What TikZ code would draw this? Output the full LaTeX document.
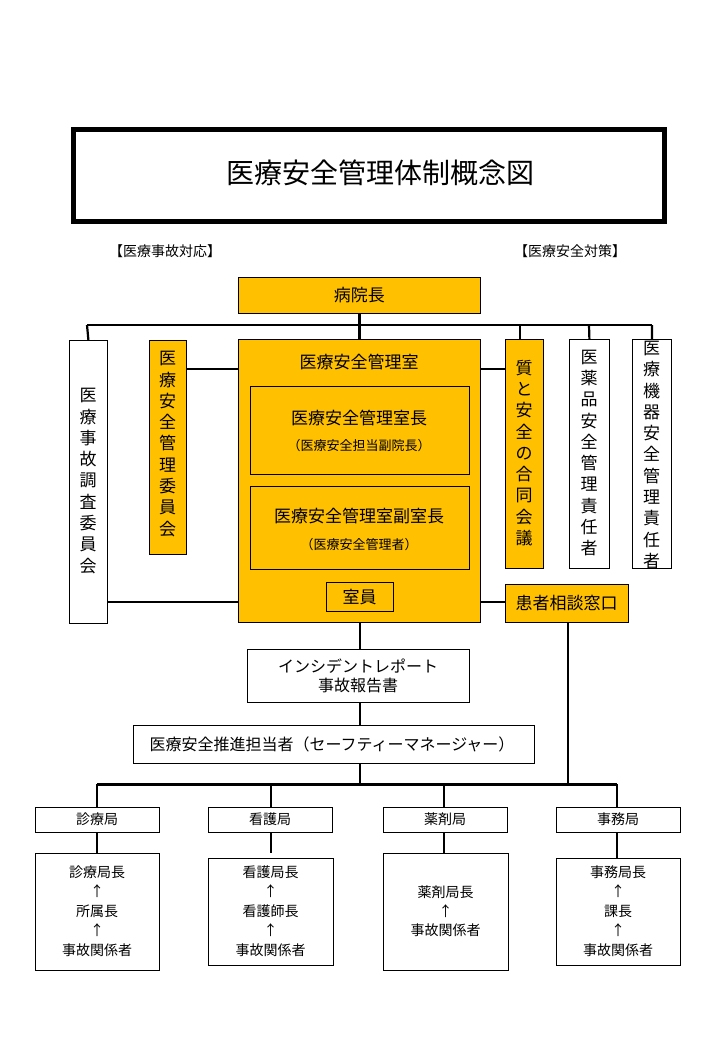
\documentclass[tikz,border=0pt]{standalone}
\usepackage{fontspec}
\setmainfont{Noto Sans CJK JP}
\begin{document}
\begin{tikzpicture}[x=1pt,y=-1pt,
  box/.style={draw,line width=0.8pt,fill=white},
  obox/.style={draw,line width=0.8pt,fill=orgc},
  con/.style={line width=2.2pt},
  vt/.style={align=center,font=\fontsize{17}{21.3}\selectfont},
  sm/.style={font=\fontsize{14}{18}\selectfont},
  md/.style={font=\fontsize{17}{20}\selectfont}]
\definecolor{orgc}{HTML}{FFC000}
\useasboundingbox (0,0) rectangle (720,1040);
% connectors first
\draw[con] (87,325) -- (652,325);
\coordinate (busL) at (97,784); \coordinate (busR) at (617,784);
\draw[con,line width=3pt] (busL) -- (busR);
% title
\node[draw,line width=5pt,minimum width=591,minimum height=92,anchor=north west] (title) at (71,127) {};
\node[font=\fontsize{28}{30}\selectfont] at (380,173) {医療安全管理体制概念図};
\node[sm] (l1) at (165,251) {【医療事故対応】};
\node[sm] (l2) at (570,251) {【医療安全対策】};
% nodes
\node[obox,minimum width=242,minimum height=36,anchor=north west,md] (inch) at (238,277) {病院長};
\node[box,minimum width=38,minimum height=283,anchor=north west] (jiko) at (69,340) {};
\node[vt] at (88,481) {医\\療\\事\\故\\調\\査\\委\\員\\会};
\node[obox,minimum width=37,minimum height=214,anchor=north west] (iin) at (149,340) {};
\node[vt] at (167.5,444) {医\\療\\安\\全\\管\\理\\委\\員\\会};
\node[obox,minimum width=242,minimum height=283,anchor=north west] (room) at (238,339) {};
\node[md] at (359,362) {医療安全管理室};
\node[box,fill=orgc,minimum width=219,minimum height=88,anchor=north west] (ch) at (250,386) {};
\node[md] at (359,418) {医療安全管理室長};
\node[font=\fontsize{13}{15}\selectfont] at (359,446) {（医療安全担当副院長）};
\node[box,fill=orgc,minimum width=219,minimum height=83,anchor=north west] (vch) at (250,486) {};
\node[md] at (359,516) {医療安全管理室副室長};
\node[font=\fontsize{13}{15}\selectfont] at (359,545) {（医療安全管理者）};
\node[box,fill=orgc,minimum width=67,minimum height=29,anchor=north west,md] (shitsu) at (326,582) {};
\node[md] at (359.5,597) {室員};
\node[obox,minimum width=38,minimum height=229,anchor=north west] (goudou) at (505,339) {};
\node[vt] at (524,453) {質\\と\\安\\全\\の\\合\\同\\会\\議};
\node[box,minimum width=40,minimum height=229,anchor=north west] (yaku) at (569,339) {};
\node[vt] at (589,453) {医\\薬\\品\\安\\全\\管\\理\\責\\任\\者};
\node[box,minimum width=39,minimum height=229,anchor=north west] (kiki) at (632,339) {};
\node[vt] at (651.5,455) {医\\療\\機\\器\\安\\全\\管\\理\\責\\任\\者};
\node[obox,minimum width=123,minimum height=38,anchor=north west] (kanja) at (505,584) {};
\node[md] at (566.5,603) {患者相談窓口};
\node[box,minimum width=222,minimum height=53,anchor=north west] (inc) at (247,649) {};
\node[md,align=center,font=\fontsize{16}{19}\selectfont] at (358,676) {インシデントレポート\\事故報告書};
\node[box,minimum width=401,minimum height=38,anchor=north west] (sm) at (133,725) {};
\node[md,font=\fontsize{16}{19}\selectfont] at (332,744) {医療安全推進担当者（セーフティーマネージャー）};
% bureaus
\foreach \n/\x/\t in {b1/35/診療局,b2/208/看護局,b3/383/薬剤局,b4/556/事務局}{
  \node[box,minimum width=124,minimum height=25,anchor=north west] (\n) at (\x,807) {};
  \node[sm] at (\x+62,819.5) {\t};
}
\node[box,minimum width=124,minimum height=117,anchor=north west] (d1) at (35,853) {};
\node[box,minimum width=125,minimum height=107,anchor=north west] (d2) at (208,858) {};
\node[box,minimum width=125,minimum height=117,anchor=north west] (d3) at (383,853) {};
\node[box,minimum width=124,minimum height=107,anchor=north west] (d4) at (556,858) {};
\node[sm,align=center,font=\fontsize{14}{19.5}\selectfont] at (97,911) {診療局長\\↑\\所属長\\↑\\事故関係者};
\node[sm,align=center,font=\fontsize{14}{19.5}\selectfont] at (270.5,911) {看護局長\\↑\\看護師長\\↑\\事故関係者};
\node[sm,align=center,font=\fontsize{14}{19}\selectfont] at (445.5,911) {薬剤局長\\↑\\事故関係者};
\node[sm,align=center,font=\fontsize{14}{19.5}\selectfont] at (618,911) {事務局長\\↑\\課長\\↑\\事故関係者};
% connectors
\draw[con] (inch.south) -- (room.north);
\draw[con] (87,325) -- (jiko.north);
\draw[con] (520,325) -- (520,339);
\draw[con] (589,325) -- (yaku.north);
\draw[con] (652,325) -- (kiki.north);
\draw[con] (iin.east |- 0,369) -- (room.west |- 0,369);
\draw[con] (room.east |- 0,369) -- (goudou.west |- 0,369);
\draw[con] (jiko.east |- 0,602) -- (room.west |- 0,602);
\draw[con] (room.east |- 0,602) -- (kanja.west |- 0,602);
\draw[con] (kanja.south -| 568,0) -- (568,784);
\draw[con] (room.south -| 360,0) -- (inc.north -| 360,0);
\draw[con] (inc.south -| 360,0) -- (sm.north -| 360,0);
\draw[con] (sm.south -| 360,0) -- (360,784);
\foreach \n/\x in {b1/97,b2/271,b3/444,b4/617}{
  \draw[con] (\x,784) -- (\n.north -| \x,0);
}
\draw[con] (b1.south -| 97,0) -- (d1.north -| 97,0);
\draw[con] (b2.south -| 271,0) -- (271,853);
\draw[con] (b3.south -| 444,0) -- (d3.north -| 444,0);
\draw[con] (b4.south -| 617,0) -- (d4.north -| 617,0);
\end{tikzpicture}
\end{document}
